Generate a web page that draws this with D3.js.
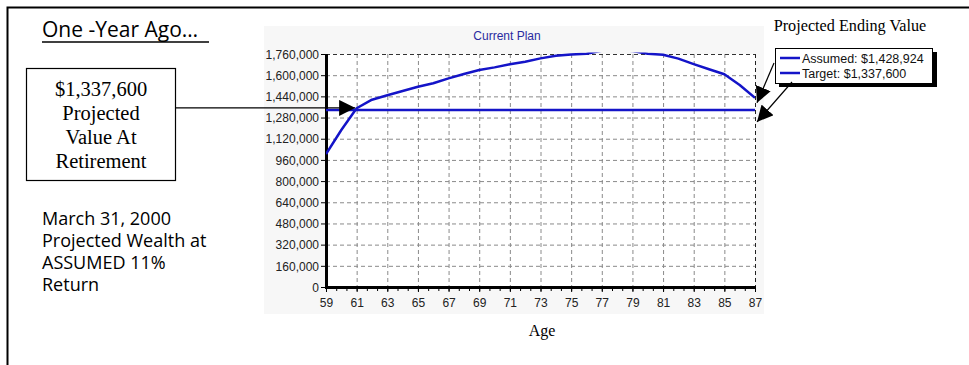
<!DOCTYPE html>
<html>
<head>
<meta charset="utf-8">
<script src="https://cdn.jsdelivr.net/npm/d3@7"></script>
<style>
  body { margin: 0; background: #fff; }
  svg { display: block; }
</style>
</head>
<body>
<div id="chart"></div>
<script>
// Ages on the x axis and projected wealth (Assumed 11% return)
const ages = [59, 60, 61, 62, 63, 64, 65, 66, 67, 68, 69, 70, 71, 72, 73,
              74, 75, 76, 77, 78, 79, 80, 81, 82, 83, 84, 85, 86, 87];
const assumed = [1005000, 1186000, 1350000, 1415000, 1448000, 1480000, 1513000, 1539000,
                 1576000, 1609000, 1639000, 1659000, 1682000, 1702000, 1727000, 1747000,
                 1757000, 1762000, 1785000, 1795000, 1782000, 1762000, 1754000, 1725000,
                 1684000, 1645000, 1607000, 1526000, 1428924];
const target = 1337600;
const yTicks = [0, 160000, 320000, 480000, 640000, 800000, 960000, 1120000,
                1280000, 1440000, 1600000, 1760000];
const xTicks = [59, 61, 63, 65, 67, 69, 71, 73, 75, 77, 79, 81, 83, 85, 87];
const legendItems = ["Assumed: $1,428,924", "Target: $1,337,600"];
const boxLines = ["$1,337,600", "Projected", "Value At", "Retirement"];
const noteLines = ["March 31, 2000", "Projected Wealth at", "ASSUMED 11%", "Return"];

const width = 969, height = 365;
const plot = { left: 326, right: 755, top: 54, bottom: 287 };
const blue = "#1414c8";

const svg = d3.select("#chart").append("svg")
    .attr("width", width)
    .attr("height", height);

const defs = svg.append("defs");
defs.append("marker")
    .attr("id", "arrow")
    .attr("viewBox", "0 0 10 10")
    .attr("refX", 10).attr("refY", 5)
    .attr("markerWidth", 16).attr("markerHeight", 16)
    .attr("markerUnits", "userSpaceOnUse")
    .attr("orient", "auto")
    .append("path")
    .attr("d", "M0,0L10,5L0,10Z")
    .attr("fill", "#000");
defs.append("clipPath").attr("id", "plotclip")
    .append("rect")
    .attr("x", plot.left).attr("y", plot.top - 1.5)
    .attr("width", plot.right - plot.left).attr("height", plot.bottom - plot.top + 1.5);

// outer frame (runs off the right and bottom edges)
svg.append("rect")
    .attr("x", 7.5).attr("y", 7.5)
    .attr("width", width + 20).attr("height", height + 20)
    .attr("fill", "none").attr("stroke", "#000").attr("stroke-width", 2);

// light grey chart background
svg.append("rect")
    .attr("x", 264).attr("y", 26).attr("width", 500).attr("height", 288)
    .attr("fill", "#f7f7f7");
svg.append("rect")
    .attr("x", plot.left).attr("y", plot.top)
    .attr("width", plot.right - plot.left).attr("height", plot.bottom - plot.top)
    .attr("fill", "#fff");

const x = d3.scaleLinear().domain([59, 87]).range([plot.left, plot.right]);
const y = d3.scaleLinear().domain([0, 1760000]).range([plot.bottom, plot.top]);

// grid
svg.append("g")
    .selectAll("line")
    .data(yTicks.slice(1, -1))
    .join("line")
    .attr("x1", plot.left).attr("x2", plot.right)
    .attr("y1", d => y(d) + 0.5).attr("y2", d => y(d) + 0.5)
    .attr("stroke", "#8a8a8a").attr("stroke-dasharray", "4,3");
svg.append("g")
    .selectAll("line")
    .data(xTicks.slice(1, -1))
    .join("line")
    .attr("x1", d => x(d) + 0.5).attr("x2", d => x(d) + 0.5)
    .attr("y1", plot.top).attr("y2", plot.bottom)
    .attr("stroke", "#8a8a8a").attr("stroke-dasharray", "4,3");
// top and right dashed borders
svg.append("line")
    .attr("x1", plot.left).attr("x2", plot.right)
    .attr("y1", plot.top + 0.5).attr("y2", plot.top + 0.5)
    .attr("stroke", "#333").attr("stroke-dasharray", "4,3");
svg.append("line")
    .attr("x1", plot.right + 0.5).attr("x2", plot.right + 0.5)
    .attr("y1", plot.top).attr("y2", plot.bottom)
    .attr("stroke", "#222").attr("stroke-dasharray", "4,3");

// axes
const yAxis = d3.axisLeft(y).tickValues(yTicks).tickSize(5).tickPadding(2)
    .tickFormat(d3.format(","));
const gy = svg.append("g")
    .attr("transform", `translate(${plot.left},0)`)
    .call(yAxis);
const minor = d3.range(59, 87.01, 2 / 3);
const gxm = svg.append("g")
    .attr("transform", `translate(0,${plot.bottom})`)
    .call(d3.axisBottom(x).tickValues(minor).tickSize(4).tickFormat(""));
gxm.select(".domain").remove();
const gx = svg.append("g")
    .attr("transform", `translate(0,${plot.bottom})`)
    .call(d3.axisBottom(x).tickValues(xTicks).tickSize(5).tickPadding(6));
[gy, gx].forEach(g => {
  g.select(".domain").attr("stroke", "#000").attr("stroke-width", 3);
  g.selectAll(".tick text")
      .style("font-family", "Arial, 'Liberation Sans', sans-serif")
      .style("font-size", "12px")
      .attr("fill", "#222");
});
gy.select(".domain").attr("d", `M0.5,${plot.top}V${plot.bottom + 1}`);
gx.select(".domain").attr("d", `M${plot.left - 1},0.5H${plot.right + 1}`);
gy.selectAll(".tick text").attr("dy", "0.35em");

// series
const line = d3.line()
    .x((d, i) => x(ages[i]))
    .y(d => y(d));
const series = svg.append("g").attr("clip-path", "url(#plotclip)");
series.append("path")
    .datum(ages.map(() => target))
    .attr("fill", "none").attr("stroke", blue).attr("stroke-width", 2.5)
    .attr("d", line);
series.append("path")
    .datum(assumed)
    .attr("fill", "none").attr("stroke", blue).attr("stroke-width", 2.5)
    .attr("stroke-linejoin", "round")
    .attr("d", line);

// chart titles
svg.append("text")
    .attr("x", 507).attr("y", 40)
    .attr("text-anchor", "middle")
    .style("font-family", "Arial, 'Liberation Sans', sans-serif")
    .style("font-size", "12px")
    .attr("fill", "#2a2aa0")
    .text("Current Plan");
svg.append("text")
    .attr("x", 542).attr("y", 336)
    .attr("text-anchor", "middle")
    .style("font-family", "'Liberation Serif', 'Times New Roman', serif")
    .style("font-size", "16px")
    .text("Age");
svg.append("text")
    .attr("x", 850).attr("y", 31)
    .attr("text-anchor", "middle")
    .style("font-family", "'Liberation Serif', 'Times New Roman', serif")
    .style("font-size", "16.2px")
    .text("Projected Ending Value");

// legend
const lg = svg.append("g").attr("transform", "translate(775,48)");
lg.append("rect").attr("x", 4).attr("y", 4).attr("width", 158).attr("height", 35).attr("fill", "#000");
lg.append("rect").attr("x", 0.5).attr("y", 0.5).attr("width", 157).attr("height", 35)
    .attr("fill", "#fff").attr("stroke", "#000");
legendItems.forEach((t, i) => {
  const ly = 10 + i * 15;
  lg.append("line").attr("x1", 5).attr("x2", 25).attr("y1", ly).attr("y2", ly)
      .attr("stroke", blue).attr("stroke-width", 2.5);
  lg.append("text").attr("x", 27).attr("y", ly + 4.5)
      .style("font-family", "Arial, 'Liberation Sans', sans-serif")
      .style("font-size", "12.5px")
      .attr("fill", "#111")
      .text(t);
});

// legend arrows to the line ends
svg.append("line")
    .attr("x1", 774).attr("y1", 63)
    .attr("x2", x(87) + 2).attr("y2", y(assumed[assumed.length - 1]) + 5)
    .attr("stroke", "#000").attr("stroke-width", 1.2)
    .attr("marker-end", "url(#arrow)");
svg.append("line")
    .attr("x1", 792).attr("y1", 82)
    .attr("x2", x(87) + 2).attr("y2", y(target) + 12)
    .attr("stroke", "#000").attr("stroke-width", 1.2)
    .attr("marker-end", "url(#arrow)");

// heading
svg.append("text")
    .attr("x", 42).attr("y", 37)
    .style("font-family", "'Open Sans', 'Noto Sans', sans-serif")
    .style("font-size", "21px")
    .text("One -Year Ago\u2026");
svg.append("line")
    .attr("x1", 42).attr("x2", 209).attr("y1", 42).attr("y2", 42)
    .attr("stroke", "#000").attr("stroke-width", 1.5);

// value box and its arrow
svg.append("rect")
    .attr("x", 26.5).attr("y", 68.5).attr("width", 149).attr("height", 112)
    .attr("fill", "#fff").attr("stroke", "#000").attr("stroke-width", 1.2);
svg.append("g").selectAll("text")
    .data(boxLines)
    .join("text")
    .attr("x", 101).attr("y", (d, i) => 96 + i * 24)
    .attr("text-anchor", "middle")
    .style("font-family", "'Liberation Serif', 'Times New Roman', serif")
    .style("font-size", "20.5px")
    .text(d => d);
svg.append("line")
    .attr("x1", 176).attr("y1", y(target) - 2)
    .attr("x2", x(60.9)).attr("y2", y(target) - 2)
    .attr("stroke", "#000").attr("stroke-width", 1.2)
    .attr("marker-end", "url(#arrow)");

// note
svg.append("g").selectAll("text")
    .data(noteLines)
    .join("text")
    .attr("x", 42).attr("y", (d, i) => 225 + i * 22)
    .style("font-family", "'Open Sans', 'Noto Sans', sans-serif")
    .style("font-size", "18px")
    .text(d => d);
</script>
</body>
</html>
